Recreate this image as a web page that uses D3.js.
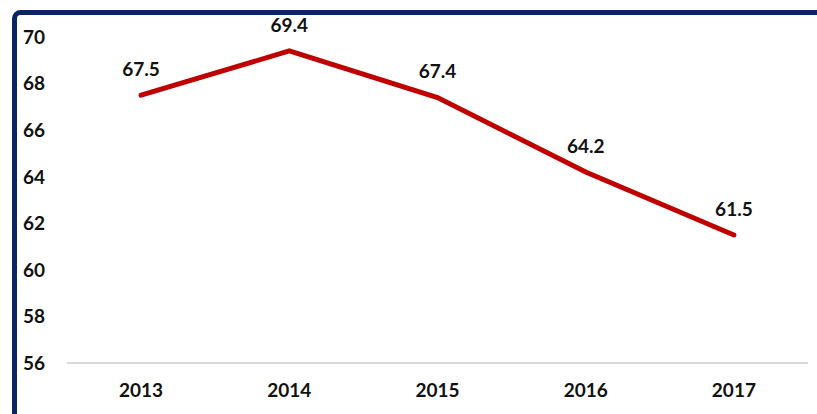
<!DOCTYPE html>
<html>
<head>
<meta charset="utf-8">
<script src="https://cdn.jsdelivr.net/npm/d3@7"></script>
<style>
  html, body { margin: 0; padding: 0; background: #fff; }
  svg { display: block; }
  text { font-family: Lato, "Open Sans", "Liberation Sans", sans-serif; font-weight: bold; fill: #111; }
</style>
</head>
<body>
<svg id="chart" width="817" height="414"></svg>
<script>
const years = ["2013", "2014", "2015", "2016", "2017"];
const values = [67.5, 69.4, 67.4, 64.2, 61.5];
const yTicks = [56, 58, 60, 62, 64, 66, 68, 70];

const svg = d3.select("#chart");

// Frame around the chart (runs off the right and bottom edges)
svg.append("rect")
  .attr("x", 14.5).attr("y", 12.5)
  .attr("width", 900).attr("height", 600)
  .attr("rx", 6).attr("ry", 6)
  .attr("fill", "none")
  .attr("stroke", "#0b2466")
  .attr("stroke-width", 5);

const x = d3.scaleBand().domain(years).range([67, 808]);
const y = d3.scaleLinear().domain([56, 70]).range([363, 37]);
const cx = d => x(d) + x.bandwidth() / 2;

// Baseline
svg.append("line")
  .attr("x1", 67).attr("x2", 808)
  .attr("y1", y(56)).attr("y2", y(56))
  .attr("stroke", "#d9d9d9").attr("stroke-width", 2);

// Y axis labels
svg.append("g").selectAll("text").data(yTicks).join("text")
  .attr("x", 23).attr("y", d => y(d))
  .attr("dy", "0.36em")
  .attr("font-size", 19)
  .text(d => d);

// X axis labels
svg.append("g").selectAll("text").data(years).join("text")
  .attr("x", d => cx(d))
  .attr("y", 390).attr("dy", "0.36em")
  .attr("text-anchor", "middle")
  .attr("font-size", 19)
  .text(d => d);

const pts = years.map((yr, i) => ({ yr, v: values[i] }));

svg.append("path")
  .datum(pts)
  .attr("fill", "none")
  .attr("stroke", "#c00000")
  .attr("stroke-width", 5)
  .attr("stroke-linejoin", "miter")
  .attr("stroke-linecap", "round")
  .attr("d", d3.line().x(d => cx(d.yr)).y(d => y(d.v)));

// Value labels
svg.append("g").selectAll("text").data(pts).join("text")
  .attr("x", d => cx(d.yr))
  .attr("y", d => y(d.v) - 26)
  .attr("dy", "0.36em")
  .attr("text-anchor", "middle")
  .attr("font-size", 19)
  .text(d => d.v.toFixed(1));
</script>
</body>
</html>
